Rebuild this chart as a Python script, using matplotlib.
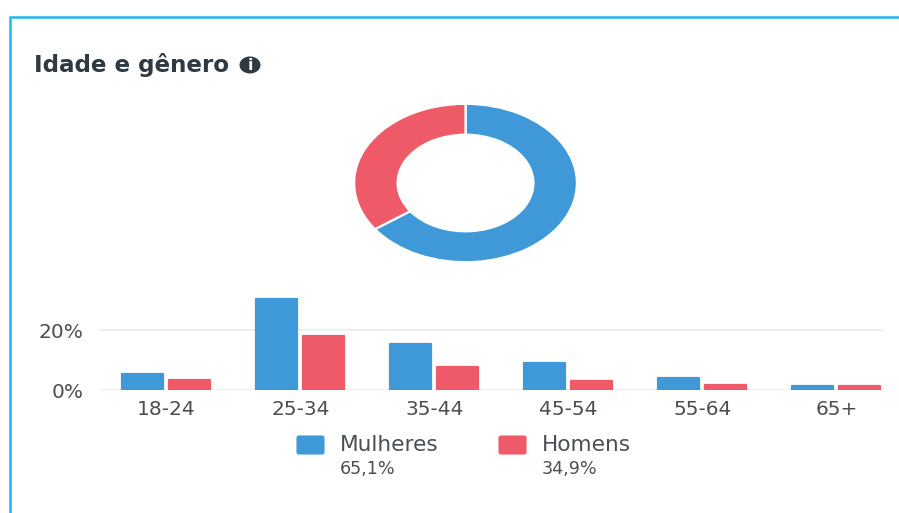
import matplotlib
matplotlib.use("Agg")
import matplotlib.pyplot as plt
import matplotlib.transforms as mtrans
import numpy as np
from matplotlib.patches import FancyBboxPatch, Ellipse

W, H = 899, 513

# valori
idade = ["18-24", "25-34", "35-44", "45-54", "55-64", "65+"]
mulheres = [5.3, 30.3, 15.2, 9.0, 3.9, 1.5]
homens = [3.3, 18.1, 7.6, 3.1, 1.7, 1.5]
genero = ["Mulheres", "Homens"]
quota = [65.1, 34.9]
quota_txt = ["65,1%", "34,9%"]
y_ticks = [0, 20]
y_labels = ["0%", "20%"]

AZUL = "#3f99d8"
VERM = "#ef5a68"
TXT = "#4a4f54"

plt.rcParams["font.family"] = ["DejaVu Sans"]


def box(x0, y0, x1, y1):
    # pixel immagine -> coordinate figura
    return [x0 / W, 1 - y1 / H, (x1 - x0) / W, (y1 - y0) / H]


fig = plt.figure(figsize=(W / 100, H / 100), dpi=100, facecolor="white")

# livello di sfondo in pixel, per cornice, titolo e legenda
bg = fig.add_axes([0, 0, 1, 1])
bg.set_xlim(0, W)
bg.set_ylim(H, 0)
bg.axis("off")
bg.plot([9.5, 9.5, W], [H, 16.5, 16.5], color="#1fb6f6", lw=1.8, solid_joinstyle="miter")

bg.text(34, 65, "Idade e gênero", fontsize=16.6, fontweight="bold", color="#2f3a42", va="center", ha="left")
bg.add_patch(Ellipse((250, 65), 21, 17, color="#2f3a42", lw=0))
bg.text(250, 65, "i", fontsize=11.5, fontweight="bold", color="white", va="center", ha="center")

# ciambella
ax_pie = fig.add_axes(box(353, 103, 578, 263))
ax_pie.pie(quota, colors=[AZUL, VERM], startangle=90, counterclock=False, radius=1,
           wedgeprops=dict(width=0.39, edgecolor="white", linewidth=1.6))
ax_pie.set_aspect("auto")
ax_pie.set_xlim(-1.01, 1.01)
ax_pie.set_ylim(-1.01, 1.01)

# barre: 3 px per ogni punto percentuale
ax = fig.add_axes(box(100, 285, 883, 390))
x = np.arange(len(idade))
w = 41.5 / 134
gap = 47 / 134 / 2
ax.bar(x - gap - 0.004, mulheres, w, color=AZUL, edgecolor=AZUL, lw=1.6, joinstyle="round", zorder=3)
ax.bar(x + gap - 0.004, homens, w, color=VERM, edgecolor=VERM, lw=1.6, joinstyle="round", zorder=3)
ax.set_xlim((100 - 166.5) / 134, (883 - 166.5) / 134)
ax.set_ylim(0, 35)
ax.set_yticks(y_ticks)
ax.set_yticklabels(y_labels, fontsize=14.5, color=TXT)
ax.set_xticks(x)
ax.set_xticklabels(idade, fontsize=14.5, color=TXT)
ax.tick_params(axis="x", length=0, pad=7)
ax.tick_params(axis="y", length=0, pad=12)
ax.grid(axis="y", color="#eceef0", lw=1.3, zorder=0)
ax.set_axisbelow(True)
ax.set_facecolor("none")
for s in ax.spines.values():
    s.set_visible(False)
giu = mtrans.ScaledTranslation(0, -2 / 100, fig.dpi_scale_trans)
for lab in ax.get_yticklabels():
    lab.set_verticalalignment("center")
    lab.set_transform(lab.get_transform() + giu)

# legenda
for px, col, nome, q in zip([296, 498], [AZUL, VERM], genero, quota_txt):
    bg.add_patch(FancyBboxPatch((px + 1, 436), 27, 18, boxstyle="round,pad=0,rounding_size=2", color=col, lw=0.8))
    bg.text(px + 44, 445, nome, fontsize=15.6, color=TXT, va="center", ha="left")
    bg.text(px + 44, 469, q, fontsize=12.6, color=TXT, va="center", ha="left")

fig.savefig("out.png", dpi=100)
